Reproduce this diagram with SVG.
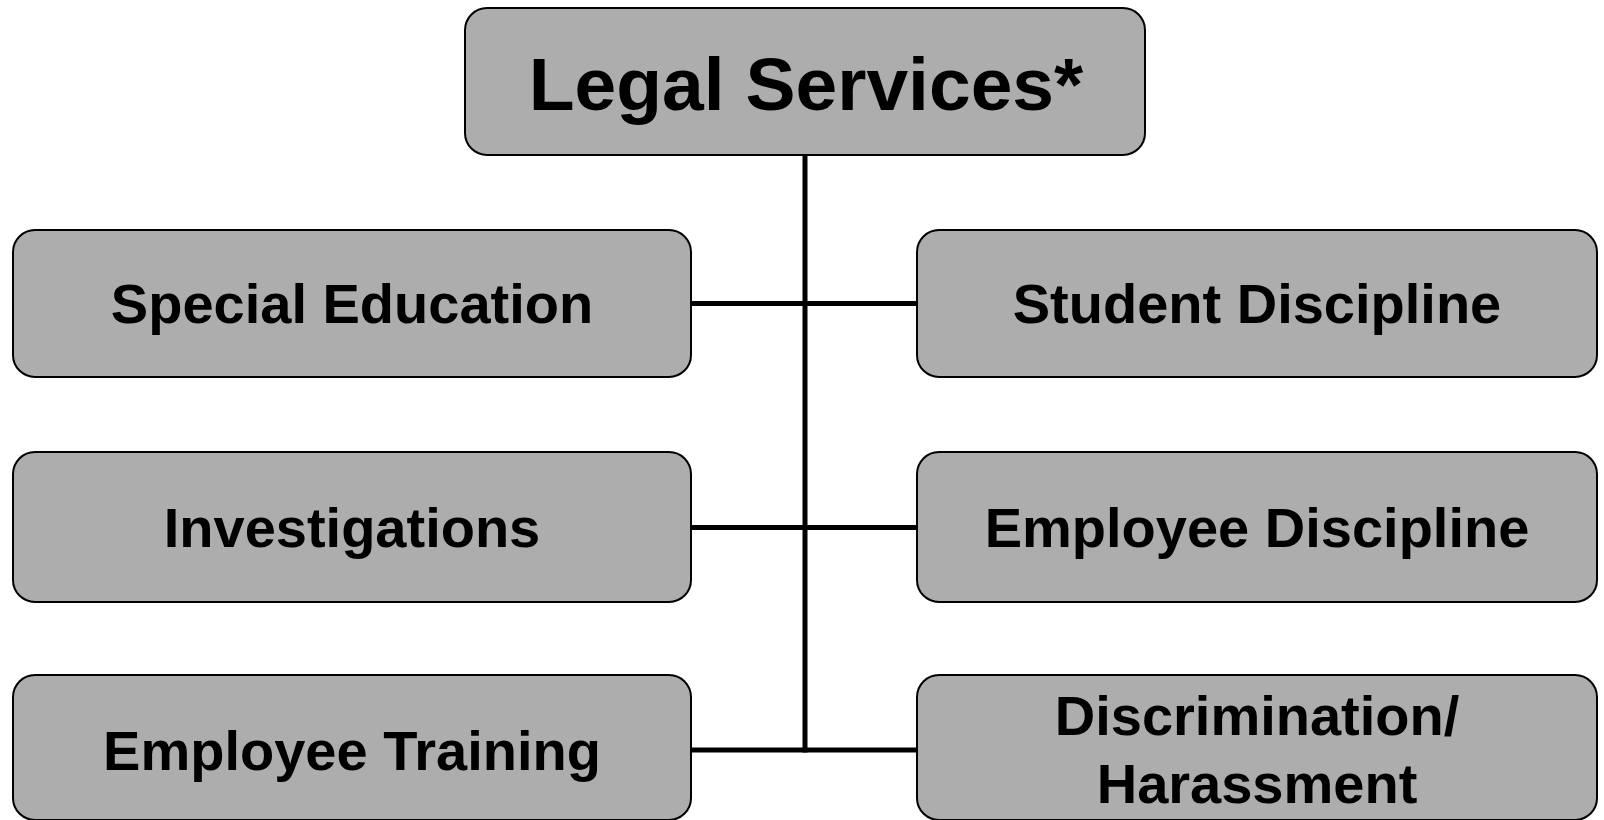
<svg xmlns="http://www.w3.org/2000/svg" width="1604" height="820" viewBox="0 0 1604 820">
<style>
.box{fill:#adadad;stroke:#000;stroke-width:2}
.t{font-family:"Liberation Sans",Arial,sans-serif;font-weight:bold;fill:#000;text-anchor:middle}
.s{font-size:56px}
.conn{stroke:#000;stroke-width:5;fill:none}
</style>
<rect width="1604" height="820" fill="#fff"/>
<g id="connectors">
<line class="conn" x1="805" y1="155" x2="805" y2="752.5"/>
<line class="conn" x1="691" y1="303.5" x2="917" y2="303.5"/>
<line class="conn" x1="691" y1="527.5" x2="917" y2="527.5"/>
<line class="conn" x1="691" y1="750" x2="917" y2="750"/>
</g>
<g id="legal-services">
<rect class="box" x="465" y="8" width="680" height="147" rx="22"/>
<text class="t" x="806" y="110" font-size="75">Legal Services*</text>
</g>
<g id="special-education">
<rect class="box" x="13" y="230" width="678" height="147" rx="22"/>
<text class="t s" x="352" y="323">Special Education</text>
</g>
<g id="student-discipline">
<rect class="box" x="917" y="230" width="680" height="147" rx="22"/>
<text class="t s" x="1257" y="323">Student Discipline</text>
</g>
<g id="investigations">
<rect class="box" x="13" y="452" width="678" height="150" rx="22"/>
<text class="t s" x="352" y="547">Investigations</text>
</g>
<g id="employee-discipline">
<rect class="box" x="917" y="452" width="680" height="150" rx="22"/>
<text class="t s" x="1257" y="547">Employee Discipline</text>
</g>
<g id="employee-training">
<rect class="box" x="13" y="675" width="678" height="145" rx="22"/>
<text class="t s" x="352" y="770">Employee Training</text>
</g>
<g id="discrimination-harassment">
<rect class="box" x="917" y="675" width="680" height="145" rx="22"/>
<text class="t s" x="1257" y="735">Discrimination/</text>
<text class="t s" x="1257" y="803">Harassment</text>
</g>
</svg>
